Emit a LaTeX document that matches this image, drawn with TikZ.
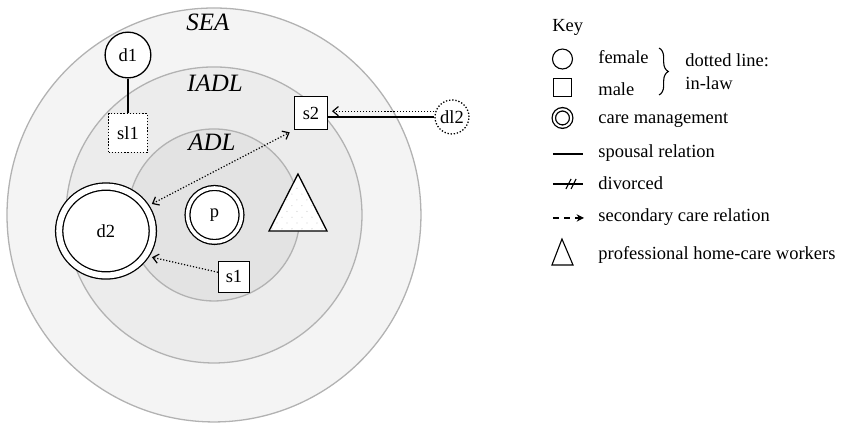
\documentclass[tikz,border=0pt]{standalone}
\usepackage{fontspec}
\setmainfont{Liberation Serif}
\usetikzlibrary{arrows.meta,shapes.geometric,decorations.pathreplacing}
\begin{document}
\begin{tikzpicture}[
    zone/.style={draw=gray!60, line width=0.7pt},
    zonelabel/.style={font=\fontsize{13.5}{16}\selectfont\itshape},
    fem/.style={circle, draw, line width=0.7pt, fill=white, inner sep=0pt},
    mal/.style={rectangle, draw, line width=0.7pt, fill=white, inner sep=0pt},
    inlaw/.style={densely dotted},
    mgmt/.style={double=white, double distance=2pt},
    care/.style={densely dotted, line width=0.65pt},
    keytext/.style={anchor=west, inner sep=0pt},
    >={Straight Barb[length=3pt,width=5pt]}
]
    \useasboundingbox (0,0) rectangle (16.008,-8.042);
    \draw [zone, fill=gray!9] (4.068,-4.087) circle (3.935);
    \draw [zone, fill=gray!15] (4.068,-4.087) circle (2.814);
    \draw [zone, fill=gray!22] (4.068,-4.087) circle (1.635);
    \node [zonelabel] (sea) at (3.954,-0.418) {SEA};
    \node [zonelabel] (iadl) at (4.087,-1.578) {IADL};
    \node [zonelabel] (adl) at (4.03,-2.70) {ADL};
    \node [fem, minimum size=0.87cm] (d1) at (2.433,-1.046) {d1};
    \node [mal, inlaw, minimum size=0.74cm] (sl1) at (2.433,-2.529) {sl1};
    \node [mal, minimum size=0.63cm] (s2) at (5.913,-2.148) {s2};
    \node [fem, inlaw, minimum size=0.646cm] (dl2) at (8.593,-2.224) {dl2};
    \node [fem, mgmt, double distance=1.9pt, minimum size=1.027cm] (p) at (4.078,-4.087) {p};
    \node [ellipse, draw, line width=0.7pt, fill=white, inner sep=0pt, mgmt, double distance=3.2pt,
        minimum width=1.78cm, minimum height=1.69cm] (d2) at (2.015,-4.392) {d2};
    \node [mal, minimum size=0.589cm] (s1) at (4.449,-5.266) {s1};
    \fill [white] (5.665,-3.308) -- (5.114,-4.392) -- (6.217,-4.392) -- cycle;
    \begin{scope}
        \clip (5.665,-3.308) -- (5.114,-4.392) -- (6.217,-4.392) -- cycle;
        \foreach \r in {0,...,9} {
            \foreach \c in {0,...,5} {
                \fill [gray!35] ({5.17+\c*0.19+mod(\r,2)*0.095},{-4.35+\r*0.11}) circle (0.35pt);
            }
        }
    \end{scope}
    \draw [line width=0.7pt] (5.665,-3.308) -- (5.114,-4.392) -- (6.217,-4.392) -- cycle;
    \draw [line width=0.7pt] (d1) -- (sl1);
    \draw [line width=0.7pt] (dl2.west) -- (dl2.west -| s2.east);
    \draw [care, ->, shorten >=2pt] ([yshift=0.11cm]dl2.west) -- ([yshift=0.11cm]dl2.west -| s2.east);
    \draw [care, <->, shorten <=3.5pt, shorten >=2.5pt] (d2.31) -- (s2.south west);
    \draw [care, ->, shorten >=3.5pt] ([yshift=0.09cm]s1.west) -- (d2.-32);
    \node [keytext] (key) at (10.494,-0.513) {Key};
    \node [fem, line width=0.6pt, minimum size=0.38cm] (kfem) at (10.694,-1.122) {};
    \node [keytext] (tfem) at (11.369,-1.084) {female};
    \node [mal, line width=0.6pt, minimum size=0.34cm] (kmal) at (10.694,-1.663) {};
    \node [keytext] (tmal) at (11.369,-1.692) {male};
    \draw [line width=0.6pt, decorate, decoration={brace, amplitude=5pt}] (12.53,-0.913) -- (12.53,-1.806);
    \node [keytext] (tdot) at (13.023,-1.141) {dotted line:};
    \node [keytext] (tlaw) at (13.023,-1.578) {in-law};
    \node [fem, line width=0.7pt, double=white, double distance=1.1pt, minimum size=0.33cm] (kmgmt) at (10.694,-2.243) {};
    \node [keytext] (tmgmt) at (11.369,-2.281) {care management};
    \draw [line width=0.6pt] (10.513,-2.928) -- (11.084,-2.928);
    \node [keytext] (tsp) at (11.369,-2.909) {spousal relation};
    \draw [line width=0.6pt] (10.513,-3.498) -- (11.084,-3.498);
    \draw [line width=0.6pt] (10.760,-3.593) -- (10.856,-3.403);
    \draw [line width=0.6pt] (10.856,-3.593) -- (10.951,-3.403);
    \node [keytext] (tdiv) at (11.369,-3.479) {divorced};
    \draw [line width=0.6pt, dash pattern=on 3pt off 3pt, -{Stealth[length=4pt,width=4pt]}] (10.513,-4.144) -- (11.103,-4.144);
    \node [keytext] (tsec) at (11.369,-4.125) {secondary care relation};
    \draw [line width=0.6pt] (10.684,-4.544) -- (10.494,-5.038) -- (10.894,-5.038) -- cycle;
    \node [keytext] (tpro) at (11.369,-4.848) {professional home-care workers};
\end{tikzpicture}
\end{document}
